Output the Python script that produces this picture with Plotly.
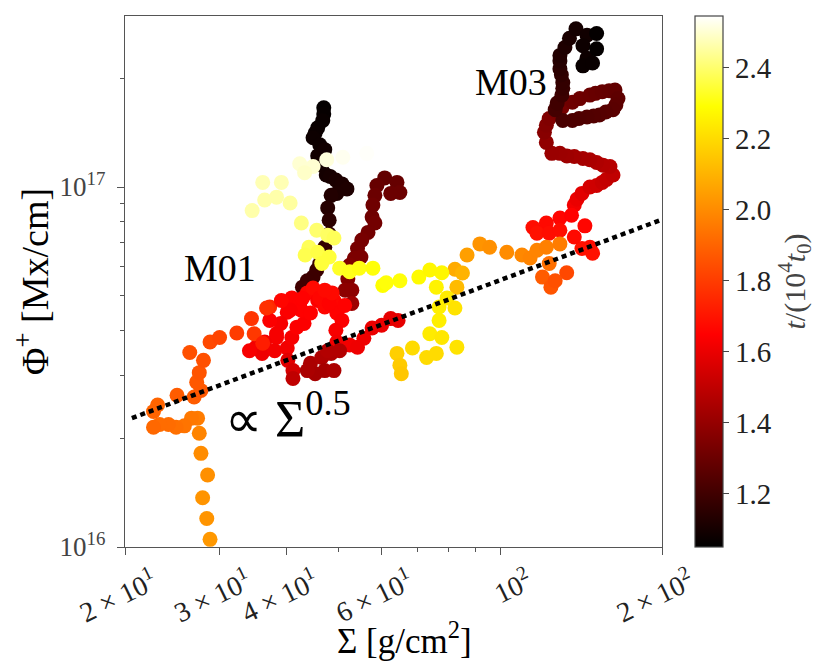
import plotly.graph_objects as go

# Phi values are in units of 1e16 Mx/cm, t in units of 1e4 t0

# M01, dark early column
SIG_M01_DARK = [46.9, 46.9, 46.7, 45.7, 45.2, 44.8, 46.1, 47.1, 45.7, 46.5, 47.4, 48.2, 49.4,
                50.7, 51.8, 49.6, 48.4, 47.7, 48.0, 48.0, 47.1, 46.5, 46.1, 45.5, 44.8, 43.7,
                42.8]
PHI_M01_DARK = [16.6, 15.95, 15.3, 14.6, 14.13, 13.7, 13.1, 12.7, 12.2, 11.5, 10.8, 10.7, 10.45,
                10.2, 9.88, 9.60, 9.48, 8.75, 8.09, 7.40, 6.80, 6.47, 6.13, 5.88, 5.62, 5.49,
                5.27]
T_M01_DARK = [1.06, 1.065, 1.07, 1.07, 1.075, 1.08, 1.08, 1.09, 1.09, 1.10, 1.10, 1.105, 1.11,
              1.115, 1.12, 1.12, 1.13, 1.14, 1.15, 1.16, 1.17, 1.175, 1.18, 1.185, 1.19, 1.19,
              1.20]

# M01, dark red column
SIG_M01_MAROON = [60.9, 64.2, 58.9, 65.0, 62.5, 58.4, 57.9, 57.7, 58.4, 56.7, 55.2, 54.2, 55.0,
                  53.5, 52.4, 52.0, 51.4, 52.9, 52.9]
PHI_M01_MAROON = [10.6, 10.3, 10.1, 9.65, 9.60, 9.48, 8.91, 8.25, 7.94, 7.48, 7.12, 6.75, 6.39,
                  6.34, 6.06, 5.56, 5.17, 5.17, 4.75]
T_M01_MAROON = [1.28, 1.29, 1.29, 1.30, 1.30, 1.30, 1.31, 1.31, 1.32, 1.32, 1.33, 1.33, 1.34,
                1.34, 1.35, 1.36, 1.38, 1.38, 1.42]

# M03 track (column, loop and top)
SIG_M03 = [137.3, 138.9, 141.9, 146.8, 151.1, 154.8, 157.7, 162.1, 160.0, 155.3, 151.1, 146.8,
           142.5, 137.3, 133.0, 129.1, 124.7, 121.8, 120.8, 121.8, 123.3, 127.0, 130.2, 136.2,
           140.6, 146.8, 150.4, 154.8, 159.4, 163.5, 165.6, 164.1, 162.1, 157.2, 152.9, 149.2,
           145.0, 140.1, 136.2, 130.7, 126.5, 127.6, 130.2, 130.7, 130.7, 129.9, 129.1, 129.1,
           129.1, 131.9, 134.5, 138.3, 145.0, 142.5, 145.0, 142.5, 148.5, 151.1, 151.1]
PHI_M03 = [8.91, 9.25, 9.60, 10.0, 10.1, 10.3, 10.5, 10.8, 11.4, 11.5, 11.7, 11.9,
           12.0, 12.15, 12.2, 12.4, 12.4, 13.3, 14.2, 14.85, 15.5, 16.15, 16.6, 17.2,
           17.6, 18.0, 18.2, 18.4, 18.5, 18.6, 17.6, 16.9, 16.4, 16.15, 15.85, 15.75,
           15.65, 15.5, 15.3, 15.3, 16.4, 17.1, 18.0, 18.8, 19.5, 20.5, 21.3, 22.4,
           23.2, 24.4, 25.9, 27.5, 26.4, 24.7, 22.8, 21.7, 22.1, 24.2, 26.7]
T_M03 = [1.62, 1.60, 1.58, 1.55, 1.535, 1.52, 1.51, 1.50, 1.48, 1.47, 1.46, 1.45,
         1.44, 1.43, 1.42, 1.415, 1.41, 1.39, 1.37, 1.36, 1.35, 1.34, 1.33, 1.31,
         1.305, 1.30, 1.295, 1.29, 1.285, 1.28, 1.27, 1.265, 1.26, 1.255, 1.25, 1.245,
         1.24, 1.235, 1.23, 1.22, 1.21, 1.20, 1.19, 1.18, 1.17, 1.16, 1.15, 1.14,
         1.13, 1.12, 1.11, 1.10, 1.09, 1.08, 1.08, 1.07, 1.07, 1.06, 1.06]

# M03, red base
SIG_M03_RED = [115.0, 121.8, 129.1, 135.7, 143.7, 146.8, 141.9, 117.0, 123.3, 137.3, 148.5, 129.1]
PHI_M03_RED = [7.72, 7.94, 8.20, 8.35, 7.80, 6.80, 6.75, 7.44, 7.44, 7.26, 6.55, 7.58]
T_M03_RED = [1.68, 1.67, 1.66, 1.65, 1.66, 1.68, 1.69, 1.69, 1.68, 1.67, 1.69, 1.68]

# M01, red cluster
SIG_M01_RED = [40.9, 43.7, 45.7, 44.8, 42.3, 40.1, 39.0, 38.3, 36.4, 35.1, 36.0, 38.0, 40.1,
               40.9, 41.8, 43.1, 42.6, 44.3, 47.1, 49.0, 49.6, 50.7, 49.4, 49.6, 52.4, 54.2,
               55.7, 57.7, 60.1, 62.5, 64.5, 40.2, 41.1, 41.1, 34.1, 38.3, 40.6, 42.8, 46.1,
               48.0, 48.6, 37.2, 37.2, 39.1, 47.1, 51.3]
PHI_M01_RED = [4.92, 5.08, 4.84, 5.24, 4.75, 4.49, 4.18, 3.82, 3.71, 3.59, 3.45, 3.51, 3.57,
               3.82, 4.08, 4.18, 4.55, 4.47, 4.64, 4.84, 4.47, 4.26, 4.00, 3.71, 3.64, 3.59,
               3.80, 4.06, 4.13, 4.31, 4.26, 3.30, 3.09, 2.94, 3.51, 3.91, 4.55, 4.90, 4.92,
               4.75, 5.08, 4.64, 4.26, 4.84, 5.17, 4.69]
T_M01_RED = [1.65, 1.66, 1.64, 1.67, 1.65, 1.64, 1.63, 1.63, 1.62, 1.62, 1.61, 1.62, 1.62,
             1.63, 1.64, 1.64, 1.65, 1.65, 1.66, 1.66, 1.65, 1.64, 1.63, 1.62, 1.62, 1.61,
             1.61, 1.60, 1.60, 1.59, 1.59, 1.58, 1.55, 1.50, 1.63, 1.63, 1.64, 1.65, 1.66,
             1.65, 1.67, 1.75, 1.64, 1.66, 1.67, 1.65]

# M01, dark red blob
SIG_M01_BLOB = [44.3, 46.5, 48.4, 47.1, 45.2, 49.0, 47.7, 50.2, 43.7]
PHI_M01_BLOB = [3.24, 3.36, 3.45, 3.09, 3.03, 3.09, 3.51, 3.51, 3.09]
T_M01_BLOB = [1.45, 1.46, 1.46, 1.44, 1.44, 1.45, 1.47, 1.47, 1.45]

# M01, orange tail
SIG_M01_ORANGE = [28.8, 28.4, 27.9, 28.5, 27.7, 27.5, 27.3, 26.6, 25.8, 24.9, 24.1, 23.2, 22.6,
                  22.6, 23.0, 25.0, 26.9, 27.7, 27.2, 27.5, 28.0, 26.4, 28.8, 30.0, 32.3, 34.4,
                  34.8, 36.1, 36.7]
PHI_M01_ORANGE = [1.05, 1.20, 1.37, 1.585, 1.82, 2.07, 2.28, 2.28, 2.17, 2.15, 2.19, 2.19, 2.15,
                  2.38, 2.48, 2.64, 2.61, 2.72, 2.87, 3.05, 3.30, 3.47, 3.71, 3.82, 3.93, 4.31,
                  3.91, 3.68, 4.61]
T_M01_ORANGE = [2.03, 2.02, 2.02, 2.01, 2.00, 1.98, 1.96, 1.95, 1.94, 1.93, 1.92, 1.92, 1.91,
                1.90, 1.90, 1.88, 1.88, 1.87, 1.87, 1.86, 1.85, 1.85, 1.83, 1.82, 1.80, 1.78,
                1.79, 1.72, 1.77]

# M03, orange loop
SIG_M03_ORANGE = [82.3, 85.0, 83.0, 86.7, 91.6, 95.5, 102.8, 109.7, 113.6, 117.0, 121.8, 129.1,
                  123.3, 119.8, 124.2, 132.9, 126.5]
PHI_M03_ORANGE = [5.91, 5.77, 5.27, 6.47, 6.95, 6.80, 6.59, 6.47, 6.35, 6.67, 6.80, 6.95,
                  6.13, 5.62, 5.27, 5.78, 5.49]
T_M03_ORANGE = [2.08, 2.10, 2.12, 2.05, 2.02, 2.01, 2.00, 1.99, 1.98, 1.98, 1.97, 1.96,
                1.93, 1.88, 1.86, 1.83, 1.85]

# yellow track
SIG_YELLOW = [42.6, 45.5, 47.7, 49.0, 44.0, 43.3, 45.7, 48.0, 46.5, 50.2, 52.4, 54.6, 57.9,
              60.4, 61.3, 65.0, 70.5, 73.9, 77.8, 76.0, 79.6, 82.3, 76.9, 73.9, 77.8, 83.0,
              76.0, 72.9, 68.6, 64.2, 65.0, 65.4, 76.9]
PHI_YELLOW = [7.94, 7.58, 7.35, 7.22, 6.80, 6.47, 6.59, 6.39, 6.13, 5.95, 5.82, 5.95, 5.95,
              5.33, 5.42, 5.49, 5.62, 5.88, 5.78, 5.27, 4.92, 4.61, 4.26, 3.91, 3.82, 3.59,
              3.45, 3.36, 3.57, 3.45, 3.20, 3.03, 4.64]
T_YELLOW = [2.42, 2.40, 2.39, 2.38, 2.38, 2.37, 2.36, 2.35, 2.35, 2.33, 2.32, 2.31, 2.30,
            2.29, 2.30, 2.30, 2.28, 2.27, 2.27, 2.26, 2.24, 2.22, 2.25, 2.24, 2.23, 2.22,
            2.20, 2.20, 2.20, 2.17, 2.16, 2.15, 2.25]

# pale late track
SIG_PALE = [34.5, 36.1, 39.1, 38.3, 40.6, 36.4, 42.3, 44.8, 47.5, 50.9, 56.4, 43.2]
PHI_PALE = [8.60, 10.3, 10.3, 9.37, 9.03, 9.20, 11.6, 11.4, 11.9, 12.1, 12.4, 10.96]
T_PALE = [2.46, 2.47, 2.47, 2.46, 2.45, 2.46, 2.50, 2.50, 2.51, 2.53, 2.54, 2.49]

# reference slope line
FIT_SIG = [20.6, 199.0]
FIT_PHI = [2.28, 8.10]

X_TICKS = [20, 30, 40, 60, 100, 200]
X_LABELS = ["2 × 10<sup>1</sup>", "3 × 10<sup>1</sup>", "4 × 10<sup>1</sup>",
            "6 × 10<sup>1</sup>", "10<sup>2</sup>", "2 × 10<sup>2</sup>"]
Y_TICKS = [1e16, 1e17]
Y_LABELS = ["10<sup>16</sup>", "10<sup>17</sup>"]
CB_TICKS = [1.2, 1.4, 1.6, 1.8, 2.0, 2.2, 2.4]

HOT = [[0.0, "#000000"], [0.4, "#ff0000"], [0.83, "#ffff00"], [1.0, "#ffffff"]]
FONT = "Liberation Serif"

groups = [
    (SIG_M01_DARK, PHI_M01_DARK, T_M01_DARK),
    (SIG_M01_MAROON, PHI_M01_MAROON, T_M01_MAROON),
    (SIG_M03, PHI_M03, T_M03),
    (SIG_M03_RED, PHI_M03_RED, T_M03_RED),
    (SIG_M01_RED, PHI_M01_RED, T_M01_RED),
    (SIG_M01_BLOB, PHI_M01_BLOB, T_M01_BLOB),
    (SIG_M01_ORANGE, PHI_M01_ORANGE, T_M01_ORANGE),
    (SIG_M03_ORANGE, PHI_M03_ORANGE, T_M03_ORANGE),
    (SIG_YELLOW, PHI_YELLOW, T_YELLOW),
    (SIG_PALE, PHI_PALE, T_PALE),
]

fig = go.Figure()
for sig, phi, t in groups:
    fig.add_trace(go.Scatter(
        x=sig, y=[p * 1e16 for p in phi], mode="markers", showlegend=False,
        marker=dict(size=15, color=t, coloraxis="coloraxis", line=dict(width=0)),
    ))

fig.add_trace(go.Scatter(
    x=FIT_SIG, y=[p * 1e16 for p in FIT_PHI], mode="lines", showlegend=False,
    line=dict(color="black", width=4.5, dash="5px,4px"),
))

label_common = dict(xref="paper", yref="paper", showarrow=False,
                    xanchor="center", yanchor="middle")
fig.add_annotation(x=0.177, y=0.525, text="M01", font=dict(size=38, color="black"),
                   **label_common)
fig.add_annotation(x=0.719, y=0.876, text="M03", font=dict(size=38, color="black"),
                   **label_common)
fig.add_annotation(x=0.303, y=0.247, text="∝ Σ<sup>0.5</sup>",
                   font=dict(size=52, color="black"), **label_common)
# x axis title, placed by hand like the reference
fig.add_annotation(x=0.52, y=-0.172, text="Σ [g/cm<sup>2</sup>]",
                   font=dict(size=35, color="black"), **label_common)

axis_common = dict(
    type="log", showline=True, mirror=True, linecolor="#555", linewidth=1.2,
    ticks="outside", ticklen=7, tickcolor="#555", showgrid=False, zeroline=False,
)
fig.update_xaxes(
    **axis_common, range=[1.30103, 2.30103], tickmode="array",
    tickvals=X_TICKS, ticktext=X_LABELS, tickangle=-26,
    ticklabelshift=28, ticklabelstandoff=0,
    tickfont=dict(size=28, color="#222"),
    minor=dict(ticks="outside", ticklen=4, tickcolor="#555", tickmode="array",
               tickvals=[50, 70, 80, 90]),
)
fig.update_yaxes(
    **axis_common, range=[16, 17.475], tickmode="array",
    tickvals=Y_TICKS, ticktext=Y_LABELS, ticklabelstandoff=6,
    tickfont=dict(size=27, color="#444"),
    minor=dict(ticks="outside", ticklen=4, tickcolor="#555", tickmode="array",
               tickvals=[2e16, 3e16, 4e16, 5e16, 6e16, 7e16, 8e16, 9e16, 2e17]),
    title=dict(text="Φ<sup>+</sup> [Mx/cm]", font=dict(size=38), standoff=2),
)

fig.update_layout(
    width=830, height=664, margin=dict(l=117, r=176, t=8, b=125),
    paper_bgcolor="white", plot_bgcolor="white",
    font=dict(family=FONT, color="black"),
    coloraxis=dict(
        colorscale=HOT, cmin=1.05, cmax=2.545,
        colorbar=dict(
            x=1.061, xanchor="left", xpad=0, y=0.5, len=1.0, ypad=0, thickness=28,
            outlinecolor="#444", outlinewidth=1.2,
            tickmode="array", tickvals=CB_TICKS, ticktext=[f"{v:.1f}" for v in CB_TICKS],
            ticks="outside", ticklen=6, tickcolor="#444",
            tickfont=dict(size=29, color="#222"),
            title=dict(text="<i>t</i>/(10<sup>4</sup><i>t</i><sub>0</sub>)", side="right",
                       font=dict(size=30, color="#444")),
        ),
    ),
)

fig.write_html("out.html")
